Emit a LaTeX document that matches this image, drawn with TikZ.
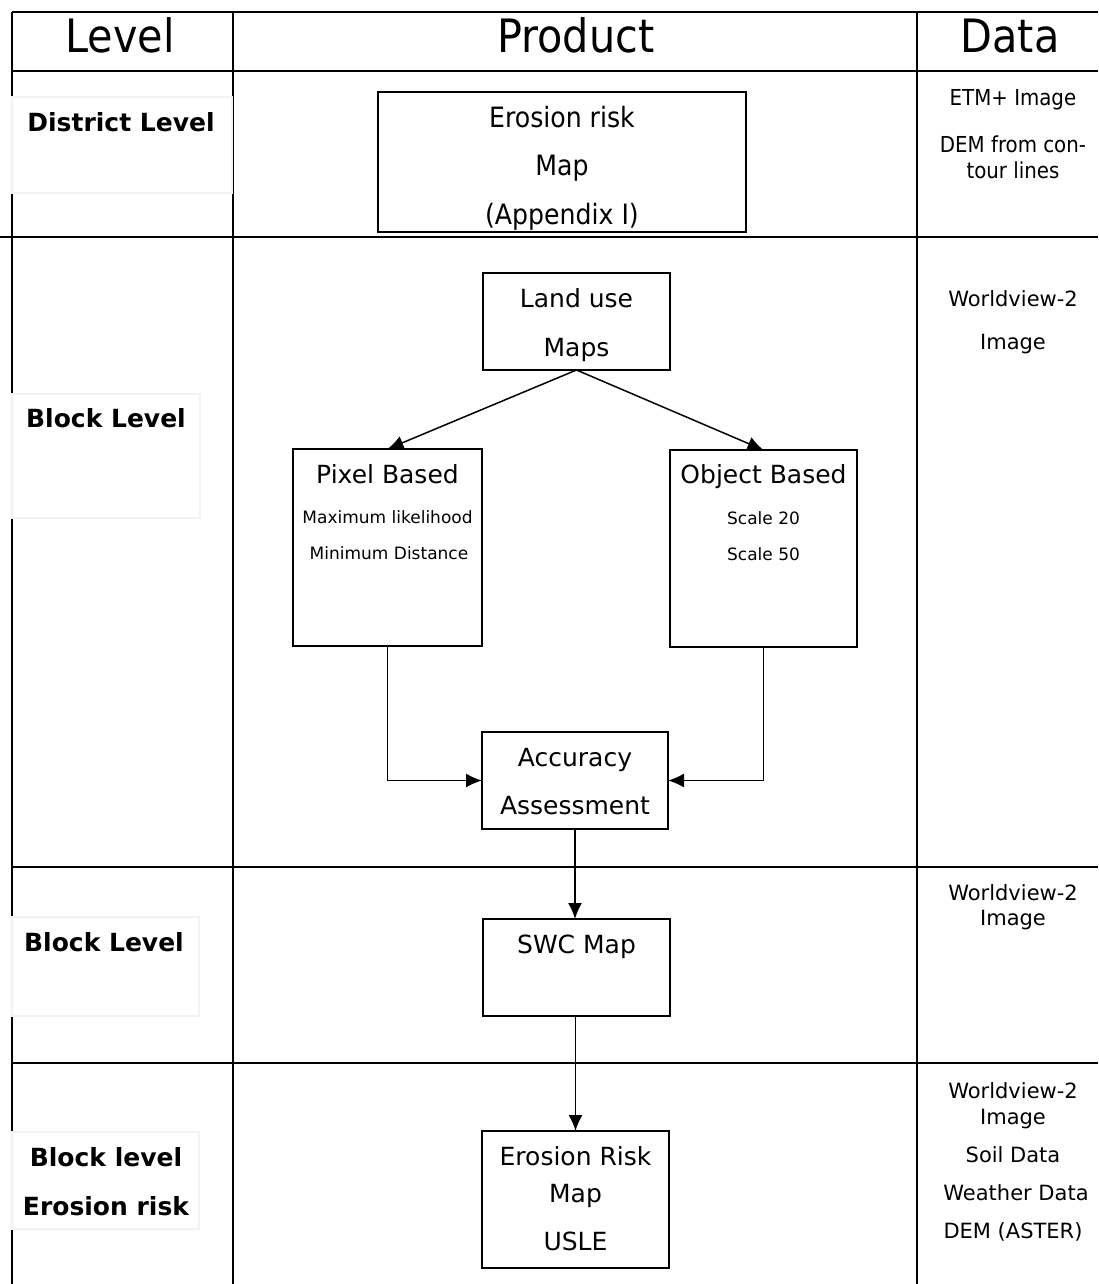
\documentclass[tikz,border=0pt]{standalone}
\usepackage{fontspec}
\setmainfont{DejaVu Sans}
\newfontfamily\condfont{DejaVu Sans Condensed}
\usetikzlibrary{arrows.meta}

\begin{document}
\begin{tikzpicture}
  [x=0.5pt, y=-0.5pt,
   box/.style={draw, line width=0.9pt, inner sep=0pt, outer sep=0pt},
   txt/.style={anchor=base, inner sep=0pt, font=\fontsize{12.5}{15}\selectfont},
   small/.style={anchor=base, inner sep=0pt, font=\fontsize{8.5}{10}\selectfont},
   cond/.style={anchor=base, inner sep=0pt, font=\condfont\fontsize{14}{16}\selectfont},
   head/.style={anchor=base, inner sep=0pt, font=\condfont\fontsize{23}{26}\selectfont},
   lvl/.style={anchor=base, inner sep=0pt, font=\bfseries\fontsize{12.5}{15}\selectfont},
   dat/.style={anchor=base, inner sep=0pt, font=\fontsize{10.5}{12}\selectfont},
   datc/.style={anchor=base, inner sep=0pt, font=\condfont\fontsize{11}{13}\selectfont},
   grid/.style={line width=0.9pt},
   faint/.style={draw=black!5, line width=0.6pt},
   arr/.style={line width=0.75pt, -{Latex[length=8pt, width=7pt]}}]
    \useasboundingbox (0,0) rectangle (1098,1284);

    % table frame
    \draw [grid] (12,12) -- (1098,12);
    \draw [grid] (12,71) -- (1098,71);
    \draw [grid] (0,237) -- (1098,237);
    \draw [grid] (12,867) -- (1098,867);
    \draw [grid] (12,1063) -- (1098,1063);
    \draw [grid] (12,12) -- (12,1284);
    \draw [grid] (233,12) -- (233,1284);
    \draw [grid] (917,12) -- (917,1284);

    \node (hLevel) at (120,53) [head] {Level};
    \node (hProduct) at (576,53) [head] {Product};
    \node (hData) at (1010,53) [head] {Data};

    % level column
    \draw [faint] (12,97) rectangle (232,193);
    \draw [faint] (12,394) rectangle (200,518);
    \draw [faint] (12,917) rectangle (199,1016);
    \draw [faint] (12,1132) rectangle (199,1229);
    \node (lDistrict) at (121,132) [lvl] {District Level};
    \node (lBlockA) at (106,427) [lvl] {Block Level};
    \node (lBlockB) at (104,951) [lvl] {Block Level};
    \node (lBlockC) at (106,1166) [lvl] {Block level};
    \node (lErosion) at (106,1215) [lvl] {Erosion risk};

    % product column
    \node (risk) at (562,162) [box, minimum width=184pt, minimum height=70pt] {};
    \node (riskA) at (562,127) [cond] {Erosion risk};
    \node (riskB) at (562,176) [cond] {Map};
    \node (riskC) at (562,224) [cond] {(Appendix I)};

    \node (landuse) at (576.5,321.5) [box, minimum width=93.5pt, minimum height=48.5pt] {};
    \node (landuseA) at (576.5,307) [txt] {Land use};
    \node (landuseB) at (576.5,356) [txt] {Maps};

    \node (pixel) at (387.5,547.5) [box, minimum width=94.5pt, minimum height=98.5pt] {};
    \node (pixelA) at (387.5,483) [txt] {Pixel Based};
    \node (pixelB) at (387.5,523) [small] {Maximum likelihood};
    \node (pixelC) at (389,559) [small] {Minimum Distance};

    \node (object) at (763.5,548.5) [box, minimum width=93.5pt, minimum height=98.5pt] {};
    \node (objectA) at (763.5,483) [txt] {Object Based};
    \node (objectB) at (763.5,524) [small] {Scale 20};
    \node (objectC) at (763.5,560) [small] {Scale 50};

    \node (accuracy) at (575,780.5) [box, minimum width=93pt, minimum height=48.5pt] {};
    \node (accuracyA) at (575,766) [txt] {Accuracy};
    \node (accuracyB) at (575,814) [txt] {Assessment};

    \node (swc) at (576.5,967.5) [box, minimum width=93.5pt, minimum height=48.5pt] {};
    \node (swcA) at (576.5,953) [txt] {SWC Map};

    \node (usle) at (575.5,1199.5) [box, minimum width=93.5pt, minimum height=68.5pt] {};
    \node (usleA) at (575.5,1165) [txt] {Erosion Risk};
    \node (usleB) at (575.5,1202) [txt] {Map};
    \node (usleC) at (575.5,1250) [txt] {USLE};

    \draw [arr] (landuse.south) -- (pixel.north);
    \draw [arr] (landuse.south) -- (object.north);
    \draw [arr] (pixel.south) |- (accuracy.west);
    \draw [arr] (object.south) |- (accuracy.east);
    \draw [arr] (accuracy.south) -- (accuracy.south |- swc.north);
    \draw [arr] (usle.north |- swc.south) -- (usle.north);

    % data column
    \node (dEtm) at (1013,105) [datc] {ETM+ Image};
    \node (dDemA) at (1013,153) [datc] {DEM from con-};
    \node (dDemB) at (1013,178) [datc] {tour lines};

    \node (dWvA) at (1013,306) [dat] {Worldview-2};
    \node (dWvB) at (1013,349) [dat] {Image};

    \node (dWvC) at (1013,900) [dat] {Worldview-2};
    \node (dWvD) at (1013,925) [dat] {Image};

    \node (dWvE) at (1013,1098) [dat] {Worldview-2};
    \node (dWvF) at (1013,1124) [dat] {Image};
    \node (dSoil) at (1013,1162) [dat] {Soil Data};
    \node (dWeather) at (1016,1200) [dat] {Weather Data};
    \node (dAster) at (1013,1238) [dat] {DEM (ASTER)};
\end{tikzpicture}
\end{document}
